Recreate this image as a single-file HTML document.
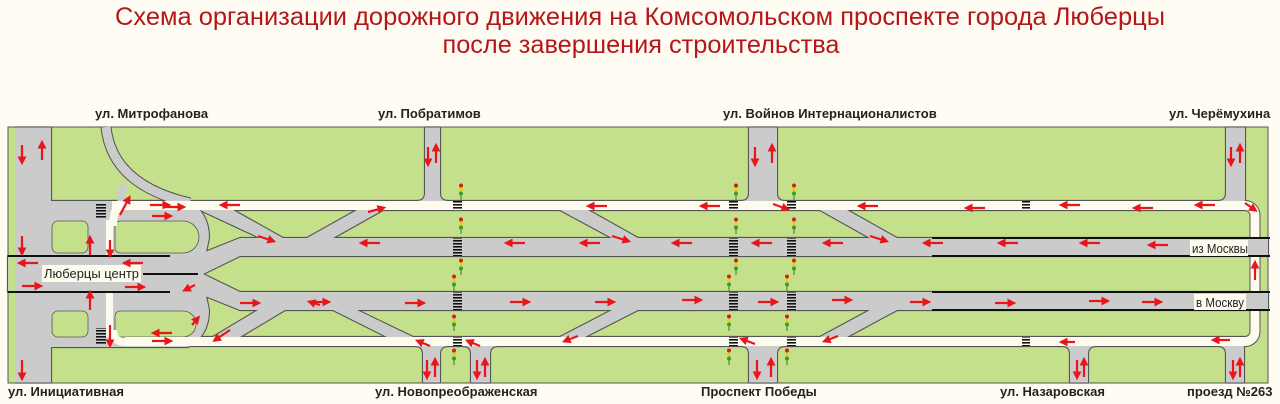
<!DOCTYPE html>
<html><head><meta charset="utf-8"><style>
html,body{margin:0;padding:0;background:#fffdf3;}
svg{display:block;}
text{font-family:"Liberation Sans",sans-serif;}
</style></head><body>
<svg width="1280" height="404" viewBox="0 0 1280 404" xmlns="http://www.w3.org/2000/svg">
<defs>
<marker id="ah" markerWidth="4" markerHeight="4" refX="2.5" refY="2" orient="auto" markerUnits="strokeWidth">
<path d="M0,0 L4,2 L0,4 z" fill="#e8151b"/></marker>
<g id="tl"><line x1="0" y1="0" x2="0" y2="16" stroke="#3a7a20" stroke-width="1"/><circle cx="0" cy="1.5" r="2" fill="#d02020"/><circle cx="0" cy="5.5" r="2" fill="#e8d020"/><circle cx="0" cy="9.5" r="2" fill="#30a030"/></g>
<pattern id="zb" width="10" height="3" patternUnits="userSpaceOnUse"><rect width="10" height="1.6" fill="#111"/></pattern>
<g id="gray">
<rect x="15" y="127.5" width="36" height="255"/>
<path d="M51,201 H188 Q209,212 209,238 L205,257 H51 Z"/>
<path d="M51,291 H205 L209,310 Q209,336 188,347 H51 Z"/>
<polygon points="8,256 195,256 240,238 1268,238 1268,256 240,256 203,274 240,292 1268,292 1268,310 240,310 195,292 8,292"/>
<path d="M425,127.5 H440 V193 Q440,201 448,201 H417 Q425,201 425,193 Z"/>
<path d="M749,127.5 H777 V193 Q777,201 785,201 H741 Q749,201 749,193 Z"/>
<path d="M1226,127.5 H1245 V201 H1218 Q1226,201 1226,193 Z"/>
<path d="M423,382.5 H440 V354 Q440,346 448,346 H415 Q423,346 423,354 Z"/>
<path d="M471,382.5 H490 V354 Q490,346 498,346 H463 Q471,346 471,354 Z"/>
<path d="M749,382.5 H777 V354 Q777,346 785,346 H741 Q749,346 749,354 Z"/>
<path d="M1070,382.5 H1088 V354 Q1088,346 1096,346 H1062 Q1070,346 1070,354 Z"/>
<path d="M1226,382.5 H1244 V346 H1218 Q1226,346 1226,354 Z"/>
<polygon points="200,210 233,210 283,238 260,238"/>
<polygon points="357,210 383,210 333,238 307,238"/>
<polygon points="258,310 285,310 240,337 213,337"/>
<polygon points="333,310 357,310 413,337 387,337"/>
<polygon points="560,210 588,210 638,238 612,238"/>
<polygon points="820,210 847,210 897,238 870,238"/>
<polygon points="612,310 638,310 585,337 560,337"/>
<polygon points="870,310 897,310 847,337 820,337"/>
</g>
<g id="white">
<rect x="112" y="201" width="1134" height="9"/>
<rect x="125" y="337" width="1121" height="9"/>
<rect x="106" y="220" width="7" height="36"/>
<rect x="106" y="292" width="7" height="45"/>
</g>
</defs>
<rect width="1280" height="404" fill="#fffdf3"/>
<text x="640" y="25" text-anchor="middle" font-size="25" fill="#b5161a" textLength="1050" lengthAdjust="spacingAndGlyphs">Схема организации дорожного движения на Комсомольском проспекте города Люберцы</text>
<text x="641" y="53" text-anchor="middle" font-size="25" fill="#b5161a" textLength="397" lengthAdjust="spacingAndGlyphs">после завершения строительства</text>
<g font-size="13" font-weight="bold" fill="#222">
<text x="95" y="118">ул. Митрофанова</text>
<text x="378" y="118">ул. Побратимов</text>
<text x="723" y="118">ул. Войнов Интернационалистов</text>
<text x="1169" y="118">ул. Черёмухина</text>
<text x="8" y="396">ул. Инициативная</text>
<text x="375" y="396">ул. Новопреображенская</text>
<text x="701" y="396">Проспект Победы</text>
<text x="1000" y="396">ул. Назаровская</text>
<text x="1187" y="396">проезд №263</text>
</g>
<rect x="8" y="127" width="1260" height="256" fill="#c5e08a" stroke="#555" stroke-width="1"/>
<g fill="#555" stroke="#555" stroke-width="2.2" stroke-linejoin="round">
<use href="#gray"/><use href="#white"/>
</g>
<path d="M106,127 Q112,185 190,203" fill="none" stroke="#555" stroke-width="11"/>
<path d="M1235,205.5 H1245 A10,10 0 0 1 1255,215.5 V331.5 A10,10 0 0 1 1245,341.5 H1235" fill="none" stroke="#555" stroke-width="11"/>
<use href="#gray" fill="#cbcbcb"/>
<path d="M106,127 Q112,185 190,203" fill="none" stroke="#cbcbcb" stroke-width="9"/>
<path d="M124,185 Q120,195 122,205" fill="none" stroke="#cbcbcb" stroke-width="8"/>
<rect x="8.5" y="127.5" width="6.5" height="255" fill="#c5e08a"/>
<g fill="#c5e08a" stroke="#555" stroke-width="0.8">
<rect x="52" y="221" width="36" height="32" rx="6"/>
<path d="M121,221 H183 A16,16 0 0 1 183,253 H121 Q115,253 115,247 V227 Q115,221 121,221 Z"/>
<rect x="52" y="311" width="36" height="26" rx="6"/>
<path d="M121,311 H183 A13,13 0 0 1 183,337 H121 Q115,337 115,331 V317 Q115,311 121,311 Z"/>
</g>
<use href="#white" fill="#fdfbee"/>
<path d="M1235,205.5 H1245 A10,10 0 0 1 1255,215.5 V331.5 A10,10 0 0 1 1245,341.5 H1235" fill="none" stroke="#fdfbee" stroke-width="9"/>
<rect x="1226" y="238" width="42" height="18" fill="#cbcbcb"/>
<rect x="1226" y="292" width="42" height="18" fill="#cbcbcb"/>
<path d="M113,330 Q113,342 125,342" fill="none" stroke="#fdfbee" stroke-width="8"/>
<path d="M113,226 Q113,205 125,205" fill="none" stroke="#fdfbee" stroke-width="8"/>
<g stroke="#111" stroke-width="2">
<line x1="8" y1="256" x2="170" y2="256"/>
<line x1="8" y1="292" x2="170" y2="292"/>
<line x1="143" y1="274" x2="198" y2="274"/>
<line x1="932" y1="238" x2="1270" y2="238"/>
<line x1="932" y1="256" x2="1270" y2="256"/>
<line x1="932" y1="292" x2="1270" y2="292"/>
<line x1="932" y1="310" x2="1270" y2="310"/>
</g>
<g font-size="13" fill="#222">
<rect x="42" y="265" width="99" height="17" fill="#fdfbee"/><text x="44" y="278" textLength="95" lengthAdjust="spacingAndGlyphs">Люберцы центр</text>
<rect x="1190" y="240" width="58" height="16" fill="#fdfbee"/><text x="1192" y="253" textLength="56" lengthAdjust="spacingAndGlyphs">из Москвы</text>
<rect x="1194" y="294" width="52" height="16" fill="#fdfbee"/><text x="1196" y="307" textLength="48" lengthAdjust="spacingAndGlyphs">в Москву</text>
</g>
<g fill="url(#zb)">
<rect x="96" y="203" width="10" height="16"/>
<rect x="96" y="328" width="10" height="16"/>
<rect x="453" y="201" width="9" height="9"/><rect x="453" y="238" width="9" height="18"/>
<rect x="453" y="292" width="9" height="18"/><rect x="453" y="337" width="9" height="9"/>
<rect x="729" y="201" width="9" height="9"/><rect x="729" y="238" width="9" height="18"/>
<rect x="729" y="292" width="9" height="18"/><rect x="729" y="337" width="9" height="9"/>
<rect x="787" y="201" width="9" height="9"/><rect x="787" y="238" width="9" height="18"/>
<rect x="787" y="292" width="9" height="18"/><rect x="787" y="337" width="9" height="9"/>
<rect x="1022" y="201" width="8" height="9"/><rect x="1022" y="337" width="8" height="9"/>
</g>
<g>
<use href="#tl" x="461" y="184"/><use href="#tl" x="461" y="218"/><use href="#tl" x="461" y="259"/>
<use href="#tl" x="454" y="275"/><use href="#tl" x="454" y="315"/><use href="#tl" x="454" y="349"/>
<use href="#tl" x="736" y="184"/><use href="#tl" x="736" y="218"/><use href="#tl" x="736" y="259"/>
<use href="#tl" x="729" y="275"/><use href="#tl" x="729" y="315"/><use href="#tl" x="729" y="349"/>
<use href="#tl" x="794" y="184"/><use href="#tl" x="794" y="218"/><use href="#tl" x="794" y="259"/>
<use href="#tl" x="787" y="275"/><use href="#tl" x="787" y="315"/><use href="#tl" x="787" y="349"/>
</g>
<g stroke="#e8151b" stroke-width="2.2" marker-end="url(#ah)" fill="none">
<line x1="380" y1="243" x2="362" y2="243"/><line x1="525" y1="243" x2="507" y2="243"/>
<line x1="692" y1="243" x2="674" y2="243"/><line x1="772" y1="243" x2="754" y2="243"/>
<line x1="843" y1="243" x2="825" y2="243"/><line x1="943" y1="243" x2="925" y2="243"/>
<line x1="1018" y1="243" x2="1000" y2="243"/><line x1="1100" y1="243" x2="1082" y2="243"/>
<line x1="1168" y1="245" x2="1150" y2="245"/><line x1="600" y1="243" x2="582" y2="243"/>
<line x1="240" y1="303" x2="258" y2="303"/><line x1="405" y1="303" x2="423" y2="303"/>
<line x1="510" y1="302" x2="528" y2="302"/><line x1="595" y1="302" x2="613" y2="302"/>
<line x1="682" y1="300" x2="700" y2="300"/><line x1="758" y1="302" x2="776" y2="302"/>
<line x1="832" y1="300" x2="850" y2="300"/><line x1="910" y1="302" x2="928" y2="302"/>
<line x1="995" y1="303" x2="1013" y2="303"/><line x1="1089" y1="301" x2="1107" y2="301"/>
<line x1="1142" y1="302" x2="1160" y2="302"/><line x1="310" y1="302" x2="328" y2="302"/>
<line x1="240" y1="205" x2="222" y2="205"/><line x1="607" y1="206" x2="589" y2="206"/>
<line x1="720" y1="206" x2="702" y2="206"/><line x1="878" y1="206" x2="860" y2="206"/>
<line x1="985" y1="208" x2="967" y2="208"/><line x1="1080" y1="205" x2="1062" y2="205"/>
<line x1="1153" y1="208" x2="1135" y2="208"/><line x1="1215" y1="205" x2="1197" y2="205"/>
<line x1="150" y1="205" x2="168" y2="205"/><line x1="152" y1="216" x2="170" y2="216"/>
<line x1="165" y1="207" x2="183" y2="207"/>
<line x1="172" y1="333" x2="154" y2="333"/><line x1="152" y1="341" x2="170" y2="341"/>
<line x1="1230" y1="340" x2="1214" y2="340"/><line x1="1075" y1="342" x2="1062" y2="342"/>
<line x1="38" y1="263" x2="20" y2="263"/><line x1="143" y1="263" x2="125" y2="263"/>
<line x1="22" y1="286" x2="40" y2="286"/><line x1="125" y1="287" x2="143" y2="287"/>
<line x1="22" y1="145" x2="22" y2="162"/><line x1="42" y1="160" x2="42" y2="143"/>
<line x1="22" y1="236" x2="22" y2="253"/><line x1="22" y1="360" x2="22" y2="378"/>
<line x1="90" y1="255" x2="90" y2="238"/><line x1="110" y1="240" x2="110" y2="255"/>
<line x1="90" y1="310" x2="90" y2="293"/><line x1="110" y1="325" x2="110" y2="345"/>
<line x1="120" y1="215" x2="129" y2="198"/>
<line x1="428" y1="147" x2="428" y2="164"/><line x1="436" y1="163" x2="436" y2="146"/>
<line x1="755" y1="147" x2="755" y2="164"/><line x1="772" y1="163" x2="772" y2="146"/>
<line x1="1231" y1="147" x2="1231" y2="164"/><line x1="1240" y1="163" x2="1240" y2="146"/>
<line x1="427" y1="360" x2="427" y2="377"/><line x1="435" y1="377" x2="435" y2="360"/>
<line x1="477" y1="360" x2="477" y2="377"/><line x1="485" y1="377" x2="485" y2="360"/>
<line x1="757" y1="360" x2="757" y2="377"/><line x1="771" y1="377" x2="771" y2="360"/>
<line x1="1077" y1="360" x2="1077" y2="377"/><line x1="1084" y1="377" x2="1084" y2="360"/>
<line x1="1233" y1="360" x2="1233" y2="377"/><line x1="1240" y1="377" x2="1240" y2="360"/>
<line x1="1255" y1="280" x2="1255" y2="263"/>
<line x1="258" y1="236" x2="273" y2="241"/><line x1="368" y1="212" x2="383" y2="208"/>
<line x1="230" y1="330" x2="215" y2="340"/><line x1="320" y1="305" x2="310" y2="302"/>
<line x1="612" y1="236" x2="628" y2="241"/><line x1="870" y1="236" x2="886" y2="241"/>
<line x1="578" y1="336" x2="565" y2="341"/><line x1="838" y1="336" x2="825" y2="341"/>
<line x1="773" y1="204" x2="787" y2="209"/><line x1="755" y1="344" x2="742" y2="339"/>
<line x1="430" y1="346" x2="418" y2="341"/><line x1="480" y1="346" x2="468" y2="341"/>
<line x1="1245" y1="203" x2="1255" y2="210"/><line x1="192" y1="325" x2="198" y2="318"/>
<line x1="195" y1="285" x2="185" y2="290"/>
</g>
</svg>
</body></html>
